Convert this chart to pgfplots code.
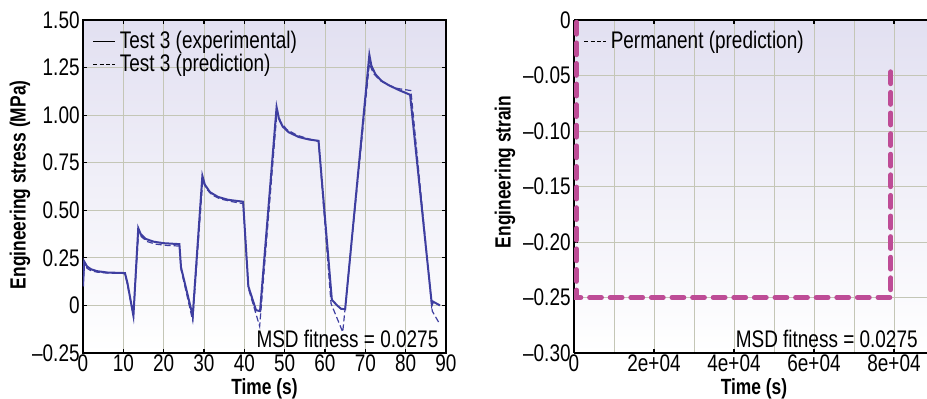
\documentclass[12pt,border=0pt]{standalone}
\usepackage{fontspec}
\setmainfont{Liberation Sans}[FakeStretch=0.79]
\usepackage{pgfplots}
\pgfplotsset{compat=1.18}
\definecolor{lineblue}{RGB}{62,62,160}
\definecolor{magline}{RGB}{190,76,150}
\definecolor{bgtop}{RGB}{226,224,241}
\definecolor{bgmid}{RGB}{238,238,248}
\definecolor{gridc}{RGB}{196,198,182}
\pgfplotsset{mystyle/.style={
  scale only axis,
  axis background/.style={shade, top color=bgtop, middle color=bgmid, bottom color=white},
  grid=both,
  grid style={gridc, line width=0.4pt},
  minor grid style={gridc, line width=0.4pt},
  tick align=inside,
  major tick length=2pt,
  minor tick length=0pt,
  tick style={black, line width=0.6pt},
  axis line style={line width=1pt},
  legend style={draw=none, fill=none, at={(0.02,0.985)}, anchor=north west, row sep=-3pt, inner sep=1pt},
  legend cell align=left,
  legend image code/.code={\draw[#1] (0pt,0pt) -- (11pt,0pt);},
  xticklabel style={inner sep=0.5pt},
  yticklabel style={inner sep=1.5pt},
  label style={font=\fontsize{11}{13}\selectfont\bfseries, inner sep=0.5pt},
  scaled ticks=false,
}}
\begin{document}
\begin{tikzpicture}
\useasboundingbox (0,0) rectangle (463.5pt,199.5pt);
\begin{axis}[mystyle, at={(41.5pt,23pt)}, anchor=south west,
  width=181.5pt, height=166.5pt,
  xmin=0, xmax=90, ymin=-0.25, ymax=1.5,
  xtick={0,10,20,30,40,50,60,70,80,90},
  xticklabels={0,10,20,30,40,50,60,70,80,90},
  ytick={-0.25,0,0.25,0.5,0.75,1,1.25,1.5},
  yticklabels={--0.25,0,0.25,0.50,0.75,1.00,1.25,1.50},
  xlabel={Time (s)}, ylabel={Engineering stress (MPa)},
  xlabel style={at={(axis description cs:0.5,-0.108)}, anchor=center},
  ylabel style={at={(axis description cs:-0.1736,0.505)}, anchor=center}]
\addlegendimage{black, line width=0.6pt}
\addlegendentry{Test 3 (experimental)}
\addlegendimage{black, line width=0.6pt, dash pattern=on 2pt off 1.2pt}
\addlegendentry{Test 3 (prediction)}
\addplot[forget plot, lineblue, line width=0.6pt, dash pattern=on 3pt off 1.5pt] coordinates {
(0,0.10) (0.3,0.22) (1,0.195) (2,0.182) (3.5,0.175) (6,0.17) (10.4,0.168)
(11,0.11) (12.5,-0.05) (13.8,0.39) (14.5,0.36) (16,0.335) (18,0.322) (21,0.315) (23.9,0.312)
(24.3,0.19) (27.2,-0.08) (29.7,0.66) (30.5,0.615) (32,0.58) (34,0.56) (37,0.545) (39.7,0.535)
(41,0.09) (43.8,-0.11) (48.1,1.02) (49,0.965) (50.5,0.925) (53,0.895) (56,0.875) (58.4,0.862)
(61.5,0.01) (64.4,-0.14) (71,1.27) (72,1.22) (73.5,1.185) (75.5,1.16) (78,1.14) (81.3,1.129)
(86.6,-0.03) (88.5,-0.10)};
\addplot[forget plot, lineblue, line width=1pt] coordinates {
(0,0.10) (0.3,0.231) (1,0.205) (2,0.19) (3.5,0.18) (6,0.173) (10.4,0.170)
(11,0.12) (12.5,-0.055) (13.7,0.406) (14.3,0.375) (15.5,0.35) (17.5,0.335) (20,0.327) (23.9,0.322)
(24.3,0.20) (27.2,-0.055) (29.6,0.681) (30.2,0.635) (31.5,0.595) (33.5,0.57) (36,0.555) (39.7,0.545)
(41,0.10) (42.9,-0.025) (43.9,-0.03) (48.0,1.042) (48.6,0.98) (49.5,0.94) (51,0.91) (53.5,0.885) (56,0.872) (58.4,0.865)
(61.7,0.03) (63,0.0) (64,-0.018) (65,-0.02) (71,1.317) (71.5,1.26) (72.5,1.215) (74,1.18) (76,1.155) (78.5,1.13) (81.1,1.107)
(86.5,0.003) (86.8,0.02) (88.5,0.0)};
\node[anchor=south east, inner sep=0pt] at (rel axis cs:0.98,0.015) {MSD fitness = 0.0275};
\end{axis}
\begin{axis}[mystyle, at={(287pt,23pt)}, anchor=south west,
  width=180pt, height=166.5pt,
  axis y line*=left,
  xmin=0, xmax=90000, ymin=-0.3, ymax=0,
  xtick={0,20000,40000,60000,80000},
  xticklabels={0,2e+04,4e+04,6e+04,8e+04},
  minor xtick={10000,30000,50000,70000,90000},
  ytick={-0.30,-0.25,-0.20,-0.15,-0.10,-0.05,0},
  yticklabels={--0.30,--0.25,--0.20,--0.15,--0.10,--0.05,0},
  xlabel={Time (s)}, ylabel={Engineering strain},
  xlabel style={at={(axis description cs:0.5,-0.108)}, anchor=center},
  ylabel style={at={(axis description cs:-0.1917,0.544)}, anchor=center}]
\addlegendimage{black, line width=0.6pt, dash pattern=on 2pt off 1.2pt}
\addlegendentry{Permanent (prediction)}
\addplot[forget plot, magline, line width=2.4pt, line cap=round, dash pattern=on 6pt off 4.3pt] coordinates {
(600,-0.002) (600,-0.25) (79200,-0.25) (79200,-0.04)};
\node[anchor=south east, inner sep=0pt] at (rel axis cs:0.9556,0.015) {MSD fitness = 0.0275};
\end{axis}
\end{tikzpicture}
\end{document}
